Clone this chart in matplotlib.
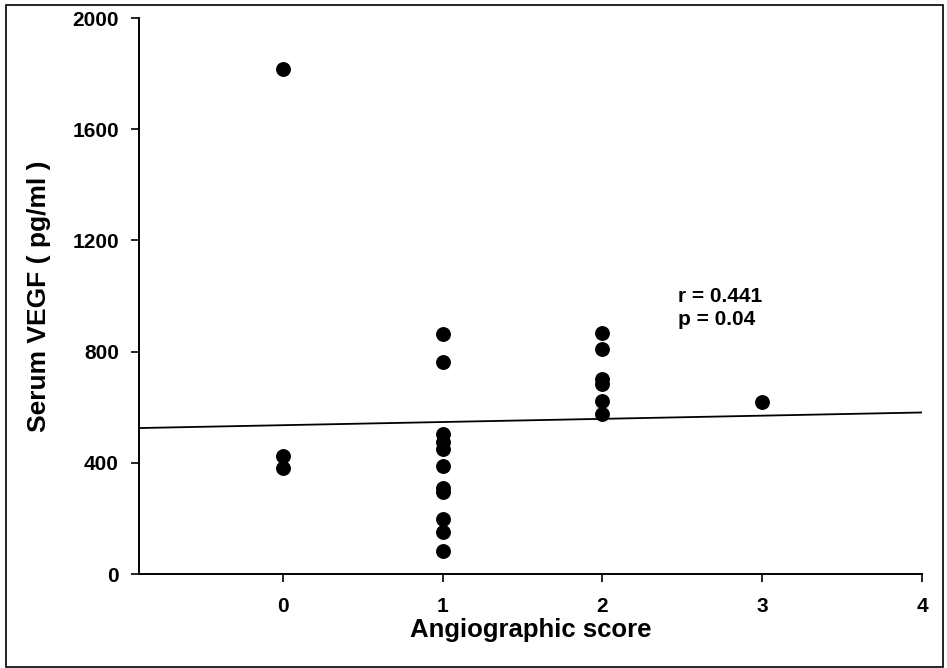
import matplotlib
matplotlib.use("Agg")
import matplotlib.pyplot as plt
from matplotlib.patches import Rectangle

# Data
score_0 = [1817, 424, 381]
score_1 = [863, 763, 504, 475, 450, 389, 309, 295, 198, 151, 83]
score_2 = [867, 809, 700, 682, 622, 576]
score_3 = [619]
scores = [0] * len(score_0) + [1] * len(score_1) + [2] * len(score_2) + [3] * len(score_3)
vegf = score_0 + score_1 + score_2 + score_3

line_x = [-0.9, 4.0]
line_y = [525, 581]

x_ticks = [0, 1, 2, 3, 4]
y_ticks = [0, 400, 800, 1200, 1600, 2000]
stats_text = "r = 0.441\np = 0.04"

plt.rcParams['font.family'] = ['Liberation Sans', 'DejaVu Sans']

W, H = 947, 668
fig = plt.figure(figsize=(W / 100, H / 100), dpi=100)
ax = fig.add_axes([139 / W, 1 - 574 / H, (922 - 139) / W, (574 - 18) / H])

ax.plot(scores, vegf, 'o', color='black', markersize=9.7, linestyle='none', zorder=3)
ax.plot(line_x, line_y, color='black', linewidth=1.3)

ax.set_xlim(-0.9, 4.0)
ax.set_ylim(0, 2000)
ax.set_xticks(x_ticks)
ax.set_yticks(y_ticks)
ax.tick_params(axis='both', direction='out', length=5.5, width=1.2, labelsize=15)
ax.tick_params(axis='x', pad=11)
ax.tick_params(axis='y', pad=9)
for lab in ax.get_xticklabels() + ax.get_yticklabels():
    lab.set_fontweight('bold')

for s in ['top', 'right']:
    ax.spines[s].set_visible(False)
for s in ['left', 'bottom']:
    ax.spines[s].set_linewidth(1.4)

ax.set_xlabel("Angiographic score", fontsize=18.5, fontweight='bold', labelpad=1.5)
ax.set_ylabel("Serum VEGF ( pg/ml )", fontsize=19, fontweight='bold', labelpad=15)

ax.text(2.47, 1032, stats_text, fontsize=15, fontweight='bold', va='top', ha='left',
        linespacing=1.25)

# outer frame
fig.patches.append(Rectangle((6 / W, 1 - 667 / H), (943 - 6) / W, (667 - 5) / H,
                             transform=fig.transFigure, fill=False, edgecolor='black',
                             linewidth=1.2))

fig.savefig("out.png", dpi=100)
